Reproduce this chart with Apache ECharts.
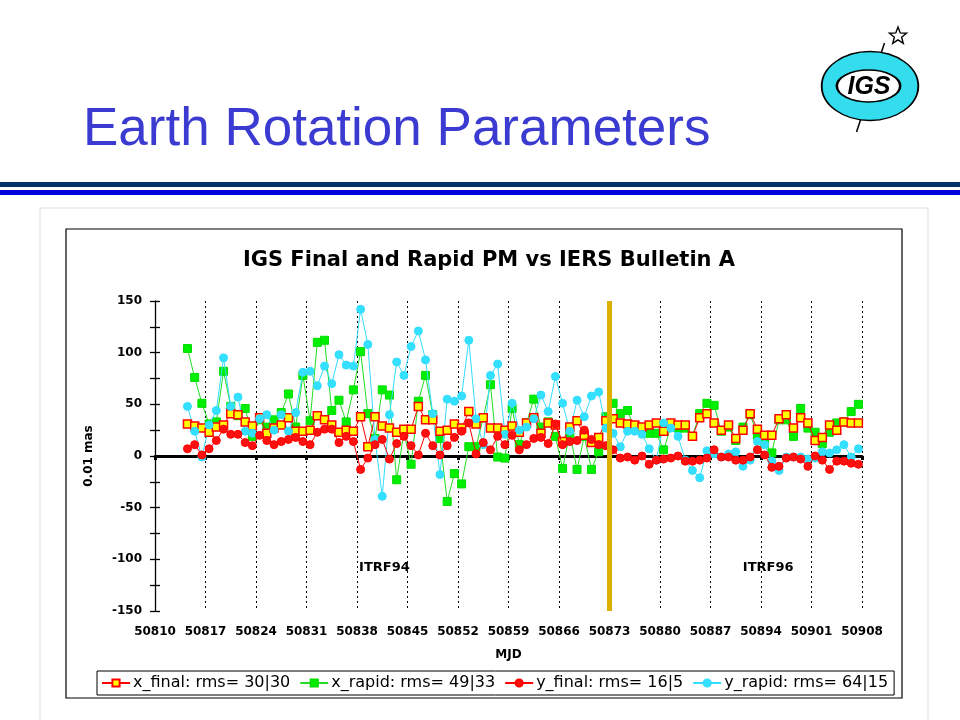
<!DOCTYPE html>
<html><head><meta charset="utf-8">
<script src="https://cdn.jsdelivr.net/npm/echarts@6/dist/echarts.min.js"></script>
<style>html,body{margin:0;padding:0;background:#fff}#c{width:960px;height:720px}</style>
</head><body><div id="c"></div>
<script>
// ---- data ----
const MJD0 = 50810;
const tickLabels = [50810,50817,50824,50831,50838,50845,50852,50859,50866,50873,50880,50887,50894,50901,50908];
const yTicks = [-150,-100,-50,0,50,100,150];
const epochs = [
  50814.5,50815.5,50816.5,50817.5,50818.5,50819.5,50820.5,50821.5,50822.5,50823.5,
  50824.5,50825.5,50826.5,50827.5,50828.5,50829.5,50830.5,50831.5,50832.5,50833.5,
  50834.5,50835.5,50836.5,50837.5,50838.5,50839.5,50840.5,50841.5,50842.5,50843.5,
  50844.5,50845.5,50846.5,50847.5,50848.5,50849.5,50850.5,50851.5,50852.5,50853.5,
  50854.5,50855.5,50856.5,50857.5,50858.5,50859.5,50860.5,50861.5,50862.5,50863.5,
  50864.5,50865.5,50866.5,50867.5,50868.5,50869.5,50870.5,50871.5,50872.5,50873.5,
  50874.5,50875.5,50876.5,50877.5,50878.5,50879.5,50880.5,50881.5,50882.5,50883.5,
  50884.5,50885.5,50886.5,50887.5,50888.5,50889.5,50890.5,50891.5,50892.5,50893.5,
  50894.5,50895.5,50896.5,50897.5,50898.5,50899.5,50900.5,50901.5,50902.5,50903.5,
  50904.5,50905.5,50906.5,50907.5];
const xFinal = [31,29,27,23,28,30,41,40,33,29, 37,22,27,30,37,24,24,25,39,35,
  30,23,25,24,38,9,38,29,27,23, 26,26,48,35,35,24,25,31,27,43,
  31,37,27,27,25,29,23,32,37,22, 32,30,14,28,34,20,13,18,34,36,
  32,31,30,28,30,32,24,32,30,30, 19,37,41,32,25,30,17,25,41,26,
  20,20,36,40,27,37,32,15,18,30, 25,33,32,32];
const xRapid = [104,76,51,31,33,82,48,39,46,19, 35,28,35,42,60,28,78,34,110,112,
  44,54,33,64,101,41,17,64,59,-23, 23,-8,53,78,40,17,-44,-17,-27,9,
  9,37,69,-1,-2,46,11,32,55,28, 33,19,-12,22,-13,19,-13,4,38,51,
  41,44,26,27,22,22,6,28,27,27, 19,41,51,49,24,28,15,28,40,20,
  12,3,35,35,19,46,27,23,12,23, 32,33,43,50];
const yFinal = [7,11,1,7,15,26,21,21,13,10, 20,15,11,14,16,18,14,11,23,26,
  26,13,19,14,-13,-2,11,16,-3,12, 19,10,1,22,10,1,10,18,24,32,
  2,13,6,19,11,20,6,11,17,18, 12,31,11,14,15,25,16,11,10,6,
  -2,-1,-4,0,-8,-4,-3,-2,0,-5, -5,-4,-2,6,-1,-1,-4,-4,-1,6,
  1,-11,-10,-2,-1,-3,-10,0,-4,-13, -5,-5,-7,-8];
const yRapid = [48,24,-1,30,44,95,48,57,24,22, 36,40,25,40,24,42,81,82,68,87,
  70,98,88,87,142,108,16,-39,40,91, 78,106,121,93,41,-18,55,53,58,112,
  36,11,78,89,21,51,25,28,36,59, 43,77,51,24,54,38,58,62,27,22,
  9,24,24,21,7,-4,32,27,19,-4, -14,-21,5,2,-1,2,4,-10,-4,14,
  11,-5,-14,-1,-1,-1,-3,-2,4,3, 6,11,-1,7];
const seriesNames = ['x_final: rms= 30|30','x_rapid: rms= 49|33','y_final: rms= 16|5','y_rapid: rms= 64|15'];
const frameChangeMJD = 50873;
const annotations = [{name:'ITRF94', mjd:50841.8, value:-108},{name:'ITRF96', mjd:50895, value:-108}];

// ---- chart ----
const pts = vals => epochs.map((t,i)=>[t-MJD0, vals[i]]);
const FONT = 'DejaVu Sans';
const chart = echarts.init(document.getElementById('c'));

// star for the logo (decoration)
const star = [];
for (let k=0;k<10;k++){const r=k%2?3.8:9;const a=-Math.PI/2+k*Math.PI/5;star.push([898+r*Math.cos(a),36+r*Math.sin(a)]);}

chart.setOption({
  animation:false,
  backgroundColor:'#fff',
  title:[
    {text:'Earth Rotation Parameters',left:78,top:99,
     textStyle:{fontFamily:'Liberation Sans',fontSize:53,fontWeight:'normal',color:'#3b3bd1'}},
    {text:'IGS Final and Rapid PM vs IERS Bulletin A',left:484,top:245,textAlign:'center',
     textStyle:{fontFamily:FONT,fontSize:21,fontWeight:'bold',color:'#000'}}
  ],
  graphic:[
    {type:'rect',z:-10,shape:{x:40,y:208,width:888,height:540},style:{fill:'#fff',stroke:'#dedede',lineWidth:1}},
    {type:'rect',z:-9,shape:{x:66,y:229,width:836,height:469},style:{fill:'#fff',stroke:'#000',lineWidth:1.2}},
    {type:'rect',shape:{x:0,y:182,width:960,height:5},style:{fill:'#003366'}},
    {type:'rect',shape:{x:0,y:190,width:960,height:5},style:{fill:'#0000dd'}},
    {type:'line',shape:{x1:879.5,y1:58,x2:884.5,y2:43},style:{stroke:'#000',lineWidth:1.5}},
    {type:'line',shape:{x1:861.5,y1:117,x2:856.5,y2:132},style:{stroke:'#000',lineWidth:1.5}},
    {type:'circle',shape:{cx:0,cy:0,r:34.5},x:870,y:86,scaleX:1.4,scaleY:1,
     style:{fill:'#33ddee',stroke:'#000',lineWidth:1.3,strokeNoScale:true}},
    {type:'circle',shape:{cx:0,cy:0,r:16},x:868.5,y:86,scaleX:1.98,scaleY:1,
     style:{fill:'#fff',stroke:'#000',lineWidth:1.3,strokeNoScale:true}},
    {type:'text',x:869,y:87,style:{text:'IGS',fontFamily:'Liberation Sans',fontSize:25,fontWeight:'bold',fontStyle:'italic',
      fill:'#000',align:'center',verticalAlign:'middle'}},
    {type:'polygon',shape:{points:star},style:{fill:'#fff',stroke:'#000',lineWidth:1.4}}
  ],
  legend:{
    data:seriesNames, left:97, top:671, orient:'horizontal',
    padding:[4,6,4,4], itemGap:9, itemWidth:28, itemHeight:9,
    borderColor:'#000', borderWidth:1, backgroundColor:'#fff',
    textStyle:{fontFamily:FONT,fontSize:16,color:'#000',padding:[0,0,0,-2]}
  },
  grid:{left:155,right:98,top:301,bottom:109,containLabel:false},
  xAxis:[
    {type:'value',min:0,max:tickLabels[tickLabels.length-1]-MJD0,interval:7,position:'bottom',
     axisLine:{show:false,onZero:false},axisTick:{show:false},
     splitLine:{show:true,lineStyle:{color:'#000',width:1,type:[2,3]}},
     axisLabel:{margin:15,fontFamily:FONT,fontSize:12,fontWeight:'bold',color:'#000',
       formatter:v=>String(MJD0+v)},
     name:'MJD',nameLocation:'middle',nameGap:38,
     nameTextStyle:{fontFamily:FONT,fontSize:12,fontWeight:'bold',color:'#000'}},
    {type:'value',min:0,max:tickLabels[tickLabels.length-1]-MJD0,interval:7,position:'bottom',
     axisLine:{show:true,onZero:true,lineStyle:{color:'#000',width:3}},
     axisTick:{show:true,length:4,lineStyle:{color:'#000',width:3}},
     axisLabel:{show:false},splitLine:{show:false}}
  ],
  yAxis:[
    {type:'value',min:yTicks[0],max:yTicks[yTicks.length-1],interval:25,
     axisLine:{show:true,lineStyle:{color:'#000',width:1.3}},
     axisTick:{show:true,length:5,lineStyle:{color:'#000',width:1.3}},
     splitLine:{show:false},
     axisLabel:{margin:13,fontFamily:FONT,fontSize:12,fontWeight:'bold',color:'#000',
       formatter:v=>yTicks.indexOf(v)>=0?String(v):''},
     name:'0.01 mas',nameLocation:'middle',nameGap:60,
     nameTextStyle:{fontFamily:FONT,fontSize:12,fontWeight:'bold',color:'#000'}},
    {type:'value',min:yTicks[0],max:yTicks[yTicks.length-1],interval:25,position:'left',
     axisLine:{show:false},axisTick:{show:true,inside:true,length:5,lineStyle:{color:'#000',width:1.3}},
     axisLabel:{show:false},splitLine:{show:false}}
  ],
  series:[
    {name:seriesNames[0],type:'line',data:pts(xFinal),symbol:'rect',symbolSize:8,z:3,
     lineStyle:{color:'#ff0000',width:1},itemStyle:{color:'#ffff00',borderColor:'#ff0000',borderWidth:1.5}},
    {name:seriesNames[1],type:'line',data:pts(xRapid),symbol:'rect',symbolSize:8,z:2,
     lineStyle:{color:'#22dd22',width:1},itemStyle:{color:'#00ee00',borderColor:'#00dd00',borderWidth:1}},
    {name:seriesNames[2],type:'line',data:pts(yFinal),symbol:'circle',symbolSize:8,z:4,
     lineStyle:{color:'#ff0000',width:1},itemStyle:{color:'#ff1010',borderColor:'#ff0000',borderWidth:1}},
    {name:seriesNames[3],type:'line',data:pts(yRapid),symbol:'circle',symbolSize:8,z:3,
     lineStyle:{color:'#33ddff',width:1},itemStyle:{color:'#33e0ff',borderColor:'#33ddff',borderWidth:1}},
    {name:'frame change',type:'line',data:[],z:10,
     markLine:{silent:true,symbol:['none','none'],label:{show:false},
       lineStyle:{color:'#dcb000',width:5,type:'solid'},data:[{xAxis:frameChangeMJD-MJD0}]}},
    {name:'labels',type:'scatter',z:9,symbolSize:1,silent:true,itemStyle:{color:'#000',opacity:0},
     data:annotations.map(a=>({name:a.name,value:[a.mjd-MJD0,a.value]})),
     label:{show:true,position:'inside',formatter:'{b}',fontFamily:FONT,fontSize:13,fontWeight:'bold',
       color:'#000',opacity:1,textBorderWidth:0}}
  ]
});
</script></body></html>
